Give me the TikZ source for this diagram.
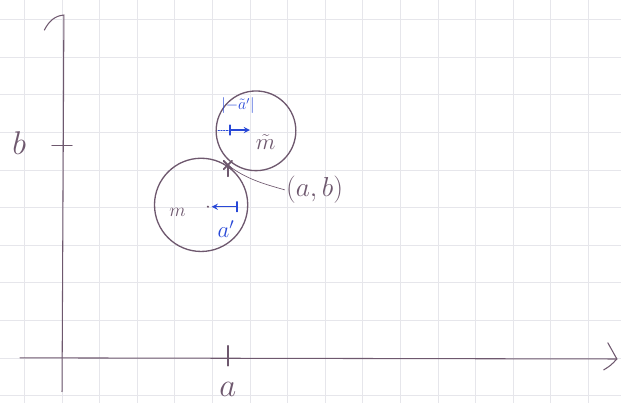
\documentclass[tikz,border=0pt]{standalone}
\usepackage{tikz}
\usetikzlibrary{calc}
\definecolor{pencil}{RGB}{110,88,110}
\definecolor{ink}{RGB}{40,72,215}
\definecolor{gridgray}{RGB}{230,230,235}

\tikzset{
	pen/.style={draw=pencil, line width=0.8pt, line cap=round},
	bluepen/.style={draw=ink, line width=1.1pt, line cap=round},
	penlabel/.style={text=pencil, inner sep=1pt},
	bluelabel/.style={text=ink, inner sep=1pt}
}

\begin{document}
\begin{tikzpicture}
			%%%%% START %%%%%
			
			\useasboundingbox (-1.65, -1.2) rectangle (14.87, 9.52);
			\draw[gridgray, line width=0.5pt] (-1.65, -1.2) grid (14.87, 9.52);
			
			\draw[pen] (0, -0.9) -- (0.05, 9.12) .. controls (-0.2, 9.1) and (-0.35, 8.95) .. (-0.47, 8.72);
			\draw[pen] (-1.12, 0) -- (14.76, -0.03);
			\draw[pen] (14.52, 0.4) .. controls (14.66, 0.2) .. (14.76, -0.03) .. controls (14.6, -0.2) .. (14.41, -0.32);
			
			\draw[pen, line width=1.2pt] (4.41, 0.32) -- (4.41, -0.21);
			\node[penlabel, font=\Huge] (a) at (4.41, -0.85) {$a$};
			\draw[pen] (-0.27, 5.64) -- (0.27, 5.64);
			\node[penlabel, font=\Huge] (b) at (-1.14, 5.72) {$b$};
			
			\draw[pen, line width=1pt] (3.70, 4.07) circle (1.24);
			\draw[pen, line width=1pt] (5.16, 6.04) circle (1.06);
			
			\coordinate (ab) at (4.41, 5.13);
			\draw[pen, line width=1.4pt] ($(ab)+(-0.11, 0.11)$) -- ($(ab)+(0.11, -0.11)$);
			\draw[pen, line width=1.4pt] ($(ab)+(-0.11, -0.11)$) -- ($(ab)+(0.11, 0.11)$);
			\draw[pen, line width=1.4pt] (ab) -- ($(ab)+(0, -0.3)$);
			\node[penlabel, font=\huge] (ablabel) at (6.72, 4.47) {$(a,b)$};
			\draw[pen, line width=0.5pt] (ab) .. controls (4.9, 4.75) and (5.4, 4.62) .. (ablabel.west);
			
			\node[penlabel, font=\Large] (m) at (3.07, 3.88) {$m$};
			\coordinate (mdot) at (3.88, 4.02);
			\coordinate (mend) at (4.65, 4.02);
			\fill[pencil] (mdot) circle (0.03);
			\draw[bluepen, -stealth] (mend) -- ($(mdot)+(0.1, 0)$);
			\draw[bluepen] ($(mend)+(0, -0.13)$) -- ($(mend)+(0, 0.13)$);
			\node[bluelabel, font=\LARGE] (aprime) at (4.36, 3.42) {$a'$};
			
			\node[penlabel, font=\LARGE] (mt) at (5.42, 5.74) {$\tilde{m}$};
			\coordinate (tstart) at (4.15, 6.06);
			\coordinate (ttick) at (4.47, 6.06);
			\coordinate (tend) at (5.0, 6.06);
			\draw[bluepen, densely dotted, line width=0.6pt] (tstart) -- (ttick);
			\draw[bluepen] ($(ttick)+(0, -0.13)$) -- ($(ttick)+(0, 0.13)$);
			\draw[bluepen, -stealth] (ttick) -- (tend);
			\node[bluelabel, font=\large] (alabel) at (4.68, 6.7) {$|{-}\tilde{a}'|$};
			
			%%%%% END %%%%%
\end{tikzpicture}
\end{document}
